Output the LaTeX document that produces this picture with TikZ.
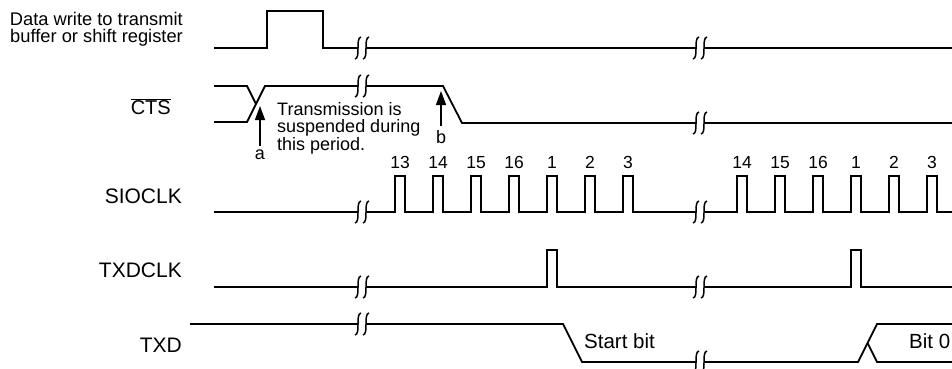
\documentclass[tikz,border=0pt]{standalone}
\usepackage{fontspec}
\setmainfont{Liberation Sans}
\usetikzlibrary{calc,arrows.meta}

% corte de la linea de tiempo
\newcommand{\corte}[1]{%
  \fill[white] ($(#1)+(-4,-3)$) rectangle ($(#1)+(4,3)$);
  \draw[line width=1.5pt] ($(#1)+(-1,-11)$) .. controls ($(#1)+(-7,-10)$) and ($(#1)+(-1,10)$) .. ($(#1)+(-7,11)$);
  \draw[line width=1.5pt] ($(#1)+(7,-11)$) .. controls ($(#1)+(1,-10)$) and ($(#1)+(7,10)$) .. ($(#1)+(1,11)$);
}

\begin{document}
\begin{tikzpicture}[x=1pt, y=-1pt, line join=miter,
    sig/.style={line width=1.8pt},
    lbl/.style={anchor=east, inner sep=0pt, font=\fontsize{21}{23}\selectfont},
    txt/.style={inner sep=0pt, font=\fontsize{18}{17.5}\selectfont},
    flecha/.style={line width=1.5pt, -{Triangle[length=14pt,width=10pt]}}]
    \useasboundingbox (0,0) rectangle (952,369);
    % nombres de las senales
    \node[lbl, align=right, font=\fontsize{18.3}{17}\selectfont] (dw) at (183,29) {Data write to transmit\\buffer or shift register};
    \node[lbl, font=\fontsize{20}{22}\selectfont] (cts) at (171,107) {$\overline{\mbox{CTS}}$};
    \node[lbl] (sioclk) at (182,196) {SIOCLK};
    \node[lbl] (txdclk) at (182,270) {TXDCLK};
    \node[lbl] (txd) at (182,345) {TXD};
    % escritura de datos
    \draw[sig] (214,48) -- (267,48) -- (267,11) -- (323,11) -- (323,48) -- (952,48);
    % CTS
    \draw[sig] (214,86) -- (247,86) -- (256,104);
    \draw[sig] (214,122) -- (247,122) -- (265,86) -- (443,86) -- (462,123) -- (952,123);
    \node[txt, anchor=north west, align=left] (msg) at (277,102) {Transmission is\\suspended during\\this period.};
    \node[txt] (a) at (260,155) {a};
    \node[txt] (b) at (441,137) {b};
    \draw[flecha] (a.north) ++(0,-4) -- (260,106);
    \draw[flecha] (b.north) ++(0,-4) -- (441,91);
    % SIOCLK
    \draw[sig] (214,212) foreach \x in {395,433,471,509,547,585,623,737,775,813,851,889,927} {
        -- (\x,212) -- (\x,176) -- (\x+10,176) -- (\x+10,212) } -- (952,212);
    \foreach \x/\n [count=\i] in {400/13,438/14,476/15,514/16,552/1,590/2,628/3,742/14,780/15,818/16,856/1,894/2,932/3}
        \node[txt, anchor=base, font=\fontsize{17.5}{17}\selectfont] (num\i) at (\x,168) {\n};
    % TXDCLK
    \draw[sig] (214,287) -- (547,287) -- (547,250) -- (557,250) -- (557,287)
        -- (851,287) -- (851,250) -- (861,250) -- (861,287) -- (952,287);
    % TXD
    \draw[sig] (190,324) -- (563,324) -- (582,362) -- (858,362) -- (867.5,343) -- (877,324) -- (952,324);
    \draw[sig] (867.5,343) -- (877,362) -- (952,362);
    \node[txt, anchor=west, font=\fontsize{20.5}{22}\selectfont] (start) at (584,341) {Start bit};
    \node[txt, anchor=west, font=\fontsize{20.5}{22}\selectfont] (bit0) at (909,341) {Bit 0};
    % cortes
    \foreach \y in {48,86,212,287,324} \corte{362,\y};
    \foreach \y in {48,123,212,287,362} \corte{700,\y};
\end{tikzpicture}
\end{document}
